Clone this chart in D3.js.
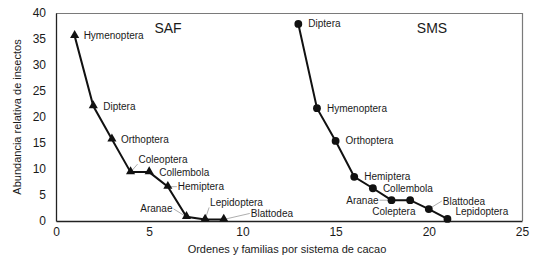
<!DOCTYPE html>
<html lang="es">
<head>
<meta charset="utf-8">
<title>Abundancia relativa de insectos</title>
<script src="https://cdn.jsdelivr.net/npm/d3@7"></script>
<style>
  body { margin: 0; background: #fff; }
  text { font-family: "Liberation Sans", Arial, sans-serif; fill: #1a1a1a; }
  .tick text { font-size: 12px; }
  .lbl { font-size: 10px; }
  .title { font-size: 14px; }
  .axis-title { font-size: 11px; }
</style>
</head>
<body>
<div id="chart"></div>
<script>
// data
var safX = [1, 2, 3, 4, 5, 6, 7, 8, 9];
var safY = [35.6, 22.1, 15.7, 9.4, 9.4, 6.6, 0.8, 0.3, 0.3];
var safLabels = ["Hymenoptera", "Diptera", "Orthoptera", "Coleoptera", "Collembola",
                 "Hemiptera", "Aranae", "Lepidoptera", "Blattodea"];

var smsX = [13, 14, 15, 16, 17, 18, 19, 20, 21];
var smsY = [37.9, 21.7, 15.4, 8.5, 6.3, 4.0, 4.0, 2.3, 0.4];
var smsLabels = ["Diptera", "Hymenoptera", "Orthoptera", "Hemiptera", "Collembola",
                 "Aranae", "Coleptera", "Blattodea", "Lepidoptera"];

var xTicks = [0, 5, 10, 15, 20, 25];
var yTicks = [0, 5, 10, 15, 20, 25, 30, 35, 40];

// label placement (pixels from marker): [dx, dy, anchor, leader?]
var safLabelPos = [[9, 0, "start"], [10, 0, "start"], [9, 0, "start"], [8, -13, "start", 1],
                   [10, 0, "start"], [10, 0, "start", 1], [-14, -8, "end", 1],
                   [5, -17, "start", 1], [27, -6, "start", 1]];
var smsLabelPos = [[10, 0, "start"], [10, 0, "start"], [10, 0, "start"], [10, 0, "start"],
                   [10, 0, "start"], [-13, 0, "end", 1], [-38, 11, "start"],
                   [14, -8, "start", 1], [8, -7, "start"]];

var W = 543, H = 261;
var margin = {top: 13, right: 21, bottom: 40, left: 56};
var width = W - margin.left - margin.right,
    height = H - margin.top - margin.bottom;

var svg = d3.select("#chart").append("svg")
    .attr("width", W).attr("height", H);

var g = svg.append("g")
    .attr("transform", "translate(" + margin.left + "," + margin.top + ")");

var x = d3.scaleLinear().domain([0, 25]).range([0, width]);
var y = d3.scaleLinear().domain([0, 40]).range([height, 0]);

// frame: gray top and right
g.append("path")
    .attr("d", "M0,0.5H" + (width + 0.5) + "V" + height)
    .attr("fill", "none").attr("stroke", "#7a7a7a").attr("stroke-width", 1.2);

var xAxis = g.append("g")
    .attr("transform", "translate(0," + height + ")")
    .call(d3.axisBottom(x).tickValues(xTicks).tickSize(0).tickPadding(6));
var yAxis = g.append("g")
    .call(d3.axisLeft(y).tickValues(yTicks).tickSize(0).tickPadding(10));
[xAxis, yAxis].forEach(function(a) {
  a.select(".domain").attr("stroke", "#222").attr("stroke-width", 1.3);
  a.selectAll(".tick text").attr("fill", "#1a1a1a")
    .style("font-family", "'Liberation Sans', Arial, sans-serif").style("font-size", "12px");
});

svg.append("text").attr("class", "axis-title")
    .attr("x", margin.left + width / 2 - 2).attr("y", 253)
    .attr("text-anchor", "middle")
    .text("Ordenes y familias por sistema de cacao");
svg.append("text").attr("class", "axis-title")
    .attr("transform", "translate(21," + (margin.top + height / 2) + ") rotate(-90)")
    .attr("text-anchor", "middle")
    .text("Abundancia relativa de insectos");

function drawSeries(xs, ys, labels, pos, marker) {
  var pts = xs.map(function(d, i) { return [d, ys[i], labels[i], pos[i]]; });
  var line = d3.line().x(function(d) { return x(d[0]); }).y(function(d) { return y(d[1]); });
  g.append("path").datum(pts)
    .attr("d", line).attr("fill", "none")
    .attr("stroke", "#111").attr("stroke-width", 2);

  // leader lines
  g.selectAll(null).data(pts.filter(function(d) { return d[3][3]; }))
    .enter().append("line")
    .attr("x1", function(d) { return x(d[0]); })
    .attr("y1", function(d) { return y(d[1]); })
    .attr("x2", function(d) { return x(d[0]) + d[3][0] + (d[3][2] === "end" ? 1 : -1); })
    .attr("y2", function(d) { return y(d[1]) + d[3][1] + (d[3][1] < -10 ? 5 : 0); })
    .attr("stroke", "#999").attr("stroke-width", 0.8);

  var sym = marker === "tri" ? d3.symbolTriangle : d3.symbolCircle;
  var size = marker === "tri" ? 36 : 48;
  g.selectAll(null).data(pts).enter().append("path")
    .attr("d", d3.symbol().type(sym).size(size))
    .attr("transform", function(d) {
      return "translate(" + x(d[0]) + "," + (y(d[1]) - (marker === "tri" ? 0.5 : 0)) + ")";
    })
    .attr("fill", "#111");

  g.selectAll(null).data(pts).enter().append("text")
    .attr("class", "lbl")
    .attr("x", function(d) { return x(d[0]) + d[3][0]; })
    .attr("y", function(d) { return y(d[1]) + d[3][1]; })
    .attr("dy", "0.35em")
    .attr("text-anchor", function(d) { return d[3][2]; })
    .text(function(d) { return d[2]; });
}

drawSeries(safX, safY, safLabels, safLabelPos, "tri");
drawSeries(smsX, smsY, smsLabels, smsLabelPos, "circ");

g.append("text").attr("class", "title")
    .attr("x", 112).attr("y", 15).attr("dy", "0.35em")
    .attr("text-anchor", "middle").text("SAF");
g.append("text").attr("class", "title")
    .attr("x", 376).attr("y", 15).attr("dy", "0.35em")
    .attr("text-anchor", "middle").text("SMS");
</script>
</body>
</html>
